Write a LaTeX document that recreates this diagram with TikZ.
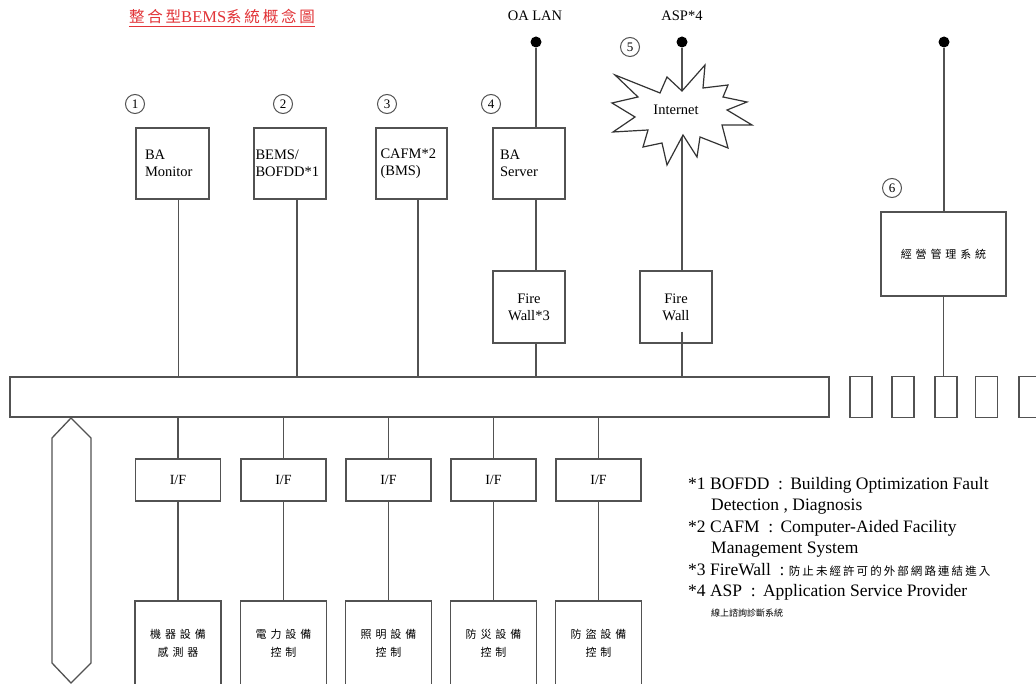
\documentclass[tikz,border=0pt]{standalone}
\usepackage{fontspec}
\setmainfont{Liberation Serif}
\newfontfamily\cjk{Noto Sans CJK TC}
\newfontfamily\cjkwide[LetterSpace=35]{Noto Sans CJK TC}
\newfontfamily\cjkmid[LetterSpace=18]{Noto Sans CJK TC}

\definecolor{linegray}{gray}{0.32}
\definecolor{titlered}{RGB}{226,52,56}

\tikzset{
  wire/.style={draw=linegray, line width=1.5pt},
  box/.style={draw=linegray, line width=1.4pt, fill=white, inner sep=0pt},
  topbox/.style={box, minimum width=72pt, minimum height=71pt, align=left,
    font=\fontsize{14.5}{17}\selectfont},
  fwbox/.style={box, minimum width=72pt, minimum height=72pt, align=center,
    font=\fontsize{14.5}{17}\selectfont},
  ifbox/.style={box, minimum width=85pt, minimum height=42pt,
    font=\fontsize{14}{16}\selectfont},
  devbox/.style={box, minimum width=86pt, minimum height=84pt, align=center,
    font=\cjkwide\fontsize{11}{18}\selectfont},
  portbox/.style={box, minimum width=22pt, minimum height=41pt},
  num/.style={circle, draw=linegray, line width=1pt, minimum size=19pt,
    inner sep=0pt, font=\fontsize{13}{13}\selectfont},
  lanpoint/.style={circle, fill=black, minimum size=11pt, inner sep=0pt},
  toplabel/.style={font=\fontsize{14.5}{17}\selectfont, inner sep=0pt},
  legend/.style={anchor=base west, inner sep=0pt, font=\fontsize{17.5}{21}\selectfont},
}

\begin{document}
\begin{tikzpicture}[x=1pt,y=-1pt]
\useasboundingbox (0,0) rectangle (1036,684);
\fill[white] (0,0) rectangle (1036,684);

% title
\node[inner sep=0pt, text=titlered] (title) at (222,17)
  {{\cjkmid\fontsize{15.5}{17}\selectfont 整合型}{\fontsize{16.5}{17}\selectfont BEMS}{\cjkmid\fontsize{15.5}{17}\selectfont 系統概念圖}};
\draw[titlered, line width=1pt] ([yshift=-2pt]title.south west) -- ([yshift=-2pt]title.south east);

% external networks
\node[toplabel] (oalan) at (535,16) {OA LAN};
\node[toplabel] (asp) at (682,16) {ASP*4};
\node[lanpoint] (dotoa) at (536,42) {};
\node[lanpoint] (dotasp) at (682,42) {};
\node[lanpoint] (dotmg) at (944,42) {};

% numbered markers
\node[num] (n1) at (135,104) {1};
\node[num] (n2) at (283,104) {2};
\node[num] (n3) at (387,104) {3};
\node[num] (n4) at (491,104) {4};
\node[num] (n5) at (630,47) {5};
\node[num] (n6) at (892,188) {6};

% central bus
\node[box, minimum width=819pt, minimum height=40pt] (bus) at (419.5,397) {};

% upper systems
\node[topbox, minimum width=73pt, text width=55pt] (bam) at (172.5,163.5) {BA\\Monitor};
\node[topbox, text width=69pt] (bems) at (290,163.5) {BEMS/\\BOFDD*1};
\node[topbox, minimum width=71pt, text width=62pt] (cafm) at (411.5,163.5) {CAFM*2\\(BMS)};
\node[topbox, text width=58pt] (bas) at (529,163.5) {BA\\Server};
\node[fwbox] (fw3) at (529,307) {Fire\\Wall*3};
\node[fwbox] (fw) at (676,307) {Fire\\Wall};
\node[box, minimum width=125pt, minimum height=84pt, font=\cjkwide\fontsize{11}{14}\selectfont] (mgmt) at (943.5,254) {經營管理系統};

% connections above the bus
\draw[wire] ([xshift=6pt]bam.south) -- ([xshift=6pt]bam.south |- bus.north);
\draw[wire] ([xshift=7pt]bems.south) -- ([xshift=7pt]bems.south |- bus.north);
\draw[wire] ([xshift=6.5pt]cafm.south) -- ([xshift=6.5pt]cafm.south |- bus.north);
\draw[wire] (dotoa) -- (dotoa |- bas.north);
\draw[wire] ([xshift=7pt]bas.south) -- ([xshift=7pt]fw3.north);
\draw[wire] ([xshift=7pt]fw3.south) -- ([xshift=7pt]fw3.south |- bus.north);
\draw[wire] (dotasp) -- (dotasp |- fw.north);
\coordinate (fwgap) at ([yshift=12pt]dotasp |- fw.south);
\draw[wire] (fwgap) -- (fwgap |- bus.north);
\draw[wire] (dotmg) -- (dotmg |- mgmt.north);

% internet cloud
\draw[draw=black!80, line width=1.2pt, fill=white]
  (615,75) -- (660,93) -- (667,77) -- (682,91) -- (705,65) -- (703,88)
  -- (728,85) -- (723,97) -- (747,102) -- (727,110) -- (752,125) -- (722,125)
  -- (728,148) -- (700,137) -- (697,157) -- (683,135) -- (667,165) -- (662,143)
  -- (643,147) -- (648,130) -- (613,132) -- (635,117) -- (612,103) -- (638,97) -- cycle;
\node[toplabel] (inet) at (676,110) {Internet};

% ports to the right of the bus
\foreach \i/\x in {1/861, 2/903, 3/946, 4/986.5, 5/1030}
  \node[portbox] (port\i) at (\x,397) {};
\draw[wire] (mgmt.south) -- (mgmt.south |- port3.north);

% interfaces and field devices below the bus
\foreach \i/\x/\la/\lb in {1/178/機器設備/感測器, 2/283.5/電力設備/控制, 3/388.5/照明設備/控制,
                           4/493.5/防災設備/控制, 5/598.5/防盜設備/控制}{
  \node[ifbox] (if\i) at (\x,480) {I/F};
  \node[devbox] (dev\i) at (\x,643) {\la\\\lb};
  \draw[wire] (if\i.north) -- (if\i.north |- bus.south);
  \draw[wire] (if\i.south) -- (dev\i.north);
}

% vertical data flow arrow
\draw[draw=linegray, line width=1.3pt, fill=white]
  (71,418) -- (91,438) -- (91,663) -- (71,683) -- (52,663) -- (52,438) -- cycle;

% notes
\node[legend] (leg1) at (688,489) {*1 BOFDD \ :\, Building Optimization Fault};
\node[legend] (leg2) at (711,510) {Detection , Diagnosis};
\node[legend] (leg3) at (688,532) {*2 CAFM \ :\, Computer-Aided Facility};
\node[legend] (leg4) at (711,553) {Management System};
\node[legend] (leg5) at (688,575) {*3 FireWall \ :\ {\cjkmid\fontsize{11.5}{11}\selectfont 防止未經許可的外部網路連結進入}};
\node[legend] (leg6) at (688,596) {*4 ASP \ :\, Application Service Provider};
\node[legend] (leg7) at (711,616) {{\cjk\fontsize{9}{9}\selectfont 線上諮詢診斷系統}};
\end{tikzpicture}
\end{document}
